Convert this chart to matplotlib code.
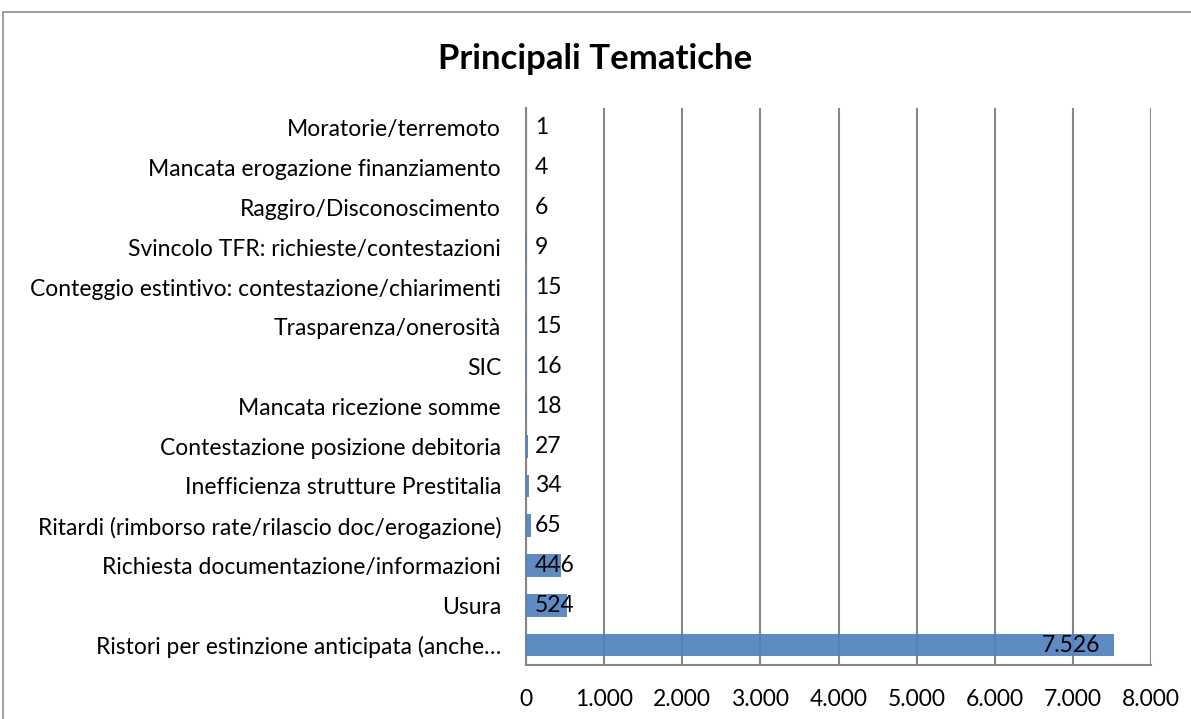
import matplotlib.pyplot as plt
from matplotlib.patches import Rectangle
from matplotlib.ticker import FuncFormatter

plt.rcParams['font.family'] = ['Lato', 'DejaVu Sans']

categories = [
    "Moratorie/terremoto",
    "Mancata erogazione finanziamento",
    "Raggiro/Disconoscimento",
    "Svincolo TFR: richieste/contestazioni",
    "Conteggio estintivo: contestazione/chiarimenti",
    "Trasparenza/onerosità",
    "SIC",
    "Mancata ricezione somme",
    "Contestazione posizione debitoria",
    "Inefficienza strutture Prestitalia",
    "Ritardi (rimborso rate/rilascio doc/erogazione)",
    "Richiesta documentazione/informazioni",
    "Usura",
    "Ristori per estinzione anticipata (anche…",
]
values = [1, 4, 6, 9, 15, 15, 16, 18, 27, 34, 65, 446, 524, 7526]
x_ticks = [0, 1000, 2000, 3000, 4000, 5000, 6000, 7000, 8000]


def it_num(v, pos=None):
    return f"{int(v):,}".replace(",", ".")


fig = plt.figure(figsize=(11.91, 7.19), dpi=100)

# outer chart frame (cut at right and bottom like the reference)
fig.add_artist(Rectangle((3 / 1191, -0.1), 1.2, 1.1 - 12 / 719,
                         transform=fig.transFigure, fill=False,
                         edgecolor='#8c8c8c', linewidth=1.2))

ax = fig.add_axes([526 / 1191, 1 - 665 / 719, 625 / 1191, (665 - 108) / 719])

fs = 16.5
pos = list(range(len(categories)))
ax.barh(pos, values, height=0.57, color='#4F81BD', alpha=0.92, linewidth=0, zorder=3)
ax.set_ylim(len(categories) - 0.5, -0.5)
ax.set_yticks(pos)
ax.set_yticklabels(categories, fontsize=fs)
ax.set_xlim(0, 8000)
ax.set_xticks(x_ticks)
ax.xaxis.set_major_formatter(FuncFormatter(it_num))
ax.tick_params(axis='x', labelsize=fs, length=0, pad=17)
ax.tick_params(axis='y', length=0, pad=18)
ax.grid(axis='x', color='#868686', linewidth=1.5, zorder=0)

for s in ['top', 'right']:
    ax.spines[s].set_visible(False)
for s in ['left', 'bottom']:
    ax.spines[s].set_color('#868686')
    ax.spines[s].set_linewidth(1.5)

for p, v in zip(pos, values):
    if v > 1500:
        ax.annotate(it_num(v), (v, p), xytext=(-14, 0), textcoords='offset pixels',
                    ha='right', va='center', fontsize=fs, zorder=4)
    else:
        ax.annotate(it_num(v), (0, p), xytext=(9, 0), textcoords='offset pixels',
                    ha='left', va='center', fontsize=fs, zorder=4)

fig.text(0.5, 1 - 59 / 719, "Principali Tematiche", ha='center', va='center',
         fontsize=25, fontweight='bold')

fig.savefig('out.png', dpi=100)
